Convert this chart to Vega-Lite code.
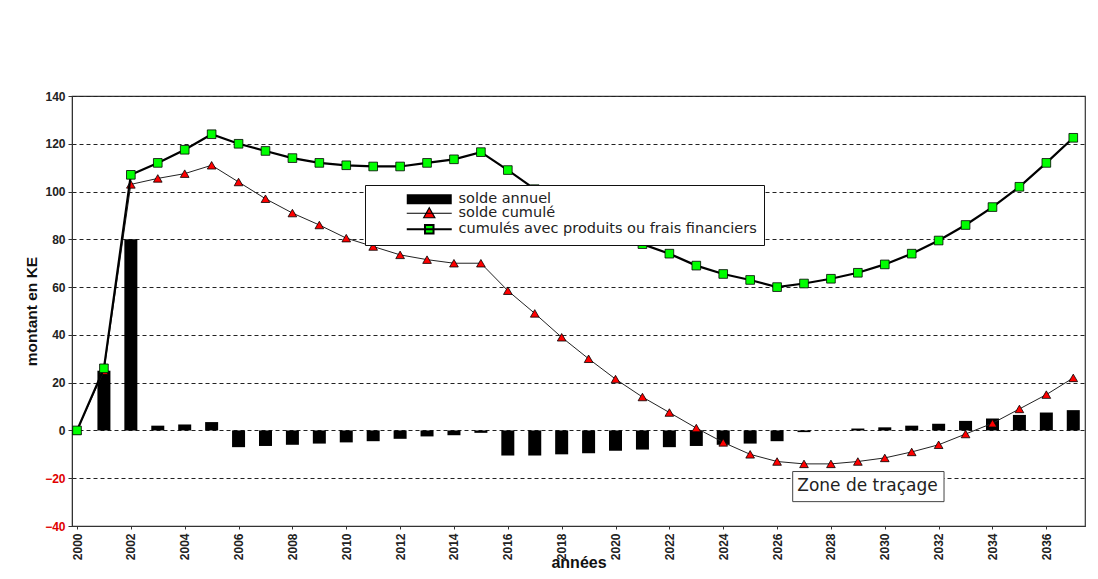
{
  "$schema": "https://vega.github.io/schema/vega-lite/v6.json",
  "width": 1013,
  "height": 430,
  "autosize": {"type": "none"},
  "padding": {"left": 72, "top": 96, "right": 13, "bottom": 53},
  "background": "white",
  "config": {
    "view": {"stroke": "#333", "strokeWidth": 1.2},
    "font": "Liberation Sans"
  },
  "datasets": {
    "main": [
      {"year": 2000, "annuel": 0, "cumule": 0, "cumule_ff": 0},
      {"year": 2001, "annuel": 25, "cumule": 25, "cumule_ff": 26},
      {"year": 2002, "annuel": 80, "cumule": 103, "cumule_ff": 107},
      {"year": 2003, "annuel": 2, "cumule": 105.5, "cumule_ff": 112},
      {"year": 2004, "annuel": 2.5, "cumule": 107.5, "cumule_ff": 117.5},
      {"year": 2005, "annuel": 3.5, "cumule": 111, "cumule_ff": 124},
      {"year": 2006, "annuel": -7, "cumule": 104, "cumule_ff": 120},
      {"year": 2007, "annuel": -6.5, "cumule": 97, "cumule_ff": 117},
      {"year": 2008, "annuel": -6, "cumule": 91, "cumule_ff": 114},
      {"year": 2009, "annuel": -5.5, "cumule": 86, "cumule_ff": 112},
      {"year": 2010, "annuel": -5, "cumule": 80.5, "cumule_ff": 111},
      {"year": 2011, "annuel": -4.5, "cumule": 77, "cumule_ff": 110.5},
      {"year": 2012, "annuel": -3.5, "cumule": 73.5, "cumule_ff": 110.5},
      {"year": 2013, "annuel": -2.5, "cumule": 71.5, "cumule_ff": 112},
      {"year": 2014, "annuel": -2, "cumule": 70, "cumule_ff": 113.5},
      {"year": 2015, "annuel": -1, "cumule": 70, "cumule_ff": 116.5},
      {"year": 2016, "annuel": -10.5, "cumule": 58.5, "cumule_ff": 109},
      {"year": 2017, "annuel": -10.5, "cumule": 49, "cumule_ff": 101},
      {"year": 2018, "annuel": -10, "cumule": 39, "cumule_ff": 94},
      {"year": 2019, "annuel": -9.5, "cumule": 30, "cumule_ff": 88},
      {"year": 2020, "annuel": -8.5, "cumule": 21.5, "cumule_ff": 83},
      {"year": 2021, "annuel": -8, "cumule": 14, "cumule_ff": 78},
      {"year": 2022, "annuel": -7, "cumule": 7.5, "cumule_ff": 74},
      {"year": 2023, "annuel": -6.5, "cumule": 1, "cumule_ff": 69},
      {"year": 2024, "annuel": -6, "cumule": -5, "cumule_ff": 65.5},
      {"year": 2025, "annuel": -5.5, "cumule": -10, "cumule_ff": 63},
      {"year": 2026, "annuel": -4.5, "cumule": -13, "cumule_ff": 60},
      {"year": 2027, "annuel": -0.7, "cumule": -14, "cumule_ff": 61.5},
      {"year": 2028, "annuel": 0, "cumule": -14, "cumule_ff": 63.5},
      {"year": 2029, "annuel": 0.8, "cumule": -13, "cumule_ff": 66},
      {"year": 2030, "annuel": 1.3, "cumule": -11.5, "cumule_ff": 69.5},
      {"year": 2031, "annuel": 2, "cumule": -9, "cumule_ff": 74},
      {"year": 2032, "annuel": 2.8, "cumule": -6, "cumule_ff": 79.5},
      {"year": 2033, "annuel": 4, "cumule": -1.5, "cumule_ff": 86},
      {"year": 2034, "annuel": 5, "cumule": 3, "cumule_ff": 93.5},
      {"year": 2035, "annuel": 6.5, "cumule": 9, "cumule_ff": 102},
      {"year": 2036, "annuel": 7.5, "cumule": 15, "cumule_ff": 112},
      {"year": 2037, "annuel": 8.5, "cumule": 22, "cumule_ff": 122.5}
    ],
    "note": [
      {"x0": 2026.58, "x1": 2032.2, "y0": -17.2, "y1": -29.8, "xt": 2026.75, "yt": -23.4, "label": "Zone de traçage"}
    ]
  },
  "encoding": {
    "x": {
      "field": "year",
      "type": "quantitative",
      "scale": {"domain": [2000, 2037.25], "nice": false, "zero": false},
      "axis": {
        "values": [2000, 2002, 2004, 2006, 2008, 2010, 2012, 2014, 2016, 2018, 2020, 2022, 2024, 2026, 2028, 2030, 2032, 2034, 2036],
        "format": "d",
        "labelAngle": 270,
        "labelAlign": "right",
        "labelBaseline": "middle",
        "labelFontWeight": "bold",
        "labelFontSize": 12,
        "labelColor": "#222",
        "labelPadding": 4,
        "tickSize": 3,
        "tickColor": "#333",
        "domainColor": "#333",
        "grid": false,
        "title": "années",
        "titleFontWeight": "bold",
        "titleFontSize": 16,
        "titleColor": "#111",
        "titleY": 41,
        "titleBaseline": "alphabetic"
      }
    }
  },
  "layer": [
    {
      "data": {"name": "main"},
      "mark": {"type": "bar", "width": 13},
      "encoding": {
        "y": {
          "field": "annuel",
          "type": "quantitative",
          "scale": {"domain": [-40, 140], "nice": false},
          "axis": {
            "values": [-40, -20, 0, 20, 40, 60, 80, 100, 120, 140],
            "grid": true,
            "gridDash": [4, 3],
            "gridColor": "#222",
            "gridWidth": 1,
            "labelFontWeight": "bold",
            "labelFontSize": 12,
            "labelColor": {"condition": {"test": "datum.value < 0", "value": "#e00000"}, "value": "#222"},
            "labelPadding": 3,
            "tickSize": 4,
            "tickColor": "#333",
            "domainColor": "#333",
            "title": "montant en KE",
            "titleFontWeight": "bold",
            "titleFontSize": 15.5,
            "titleColor": "#111",
            "titlePadding": 5
          }
        },
        "color": {
          "datum": "solde annuel",
          "scale": {
            "domain": ["solde annuel", "solde cumulé", "cumulés avec produits ou frais financiers"],
            "range": ["#000000", "#ff0000", "#00ff00"]
          },
          "legend": {
            "title": null,
            "orient": "none",
            "legendX": 293,
            "legendY": 89,
            "direction": "vertical",
            "fillColor": "white",
            "strokeColor": "#111",
            "padding": 7,
            "rowPadding": -1,
            "symbolOffset": 50,
            "symbolSize": 2025,
            "labelFont": "DejaVu Sans",
            "labelFontSize": 14.5,
            "labelColor": "#222",
            "labelOffset": 22,
            "labelLimit": 500,
            "encode": {
              "symbols": {
                "update": {
                  "shape": {"signal": "datum.value === 'solde annuel' ? 'M-1,-0.22H1V0.22H-1Z' : (datum.value === 'solde cumulé' ? 'M-1,0H1M-0.25,0.2L0,-0.25L0.25,0.2Z' : 'M-1,0H1M-0.19,-0.19H0.19V0.19H-0.19Z')"},
                  "size": {"value": 2025},
                  "stroke": {"value": "#000"},
                  "strokeWidth": {"signal": "datum.value === 'solde annuel' ? 0 : (datum.value === 'solde cumulé' ? 1.2 : 2)"},
                  "opacity": {"value": 1},
                  "fillOpacity": {"value": 1}
                }
              }
            }
          }
        }
      }
    },
    {
      "mark": {"type": "rule", "color": "#555", "strokeWidth": 1.2},
      "encoding": {"y": {"datum": 0, "type": "quantitative"}}
    },
    {
      "data": {"name": "main"},
      "mark": {"type": "line", "color": "#222", "strokeWidth": 1},
      "encoding": {"y": {"field": "cumule", "type": "quantitative"}}
    },
    {
      "data": {"name": "main"},
      "mark": {"type": "point", "shape": "triangle-up", "filled": true, "opacity": 1, "size": 75, "stroke": "#000", "strokeWidth": 0.8},
      "encoding": {
        "y": {"field": "cumule", "type": "quantitative"},
        "color": {"datum": "solde cumulé"}
      }
    },
    {
      "data": {"name": "main"},
      "mark": {"type": "line", "color": "#000", "strokeWidth": 2.2},
      "encoding": {"y": {"field": "cumule_ff", "type": "quantitative"}}
    },
    {
      "data": {"name": "main"},
      "mark": {"type": "point", "shape": "square", "filled": true, "opacity": 1, "size": 75, "stroke": "#000", "strokeWidth": 0.8},
      "encoding": {
        "y": {"field": "cumule_ff", "type": "quantitative"},
        "color": {"datum": "cumulés avec produits ou frais financiers"}
      }
    },
    {
      "data": {"name": "note"},
      "mark": {"type": "rect", "fill": "white", "stroke": "#444", "strokeWidth": 1},
      "encoding": {
        "x": {"field": "x0", "type": "quantitative"},
        "x2": {"field": "x1"},
        "y": {"field": "y0", "type": "quantitative"},
        "y2": {"field": "y1"}
      }
    },
    {
      "data": {"name": "note"},
      "mark": {"type": "text", "align": "left", "baseline": "middle", "font": "DejaVu Sans", "fontSize": 17, "color": "#222"},
      "encoding": {
        "x": {"field": "xt", "type": "quantitative"},
        "y": {"field": "yt", "type": "quantitative"},
        "text": {"field": "label"}
      }
    }
  ]
}
